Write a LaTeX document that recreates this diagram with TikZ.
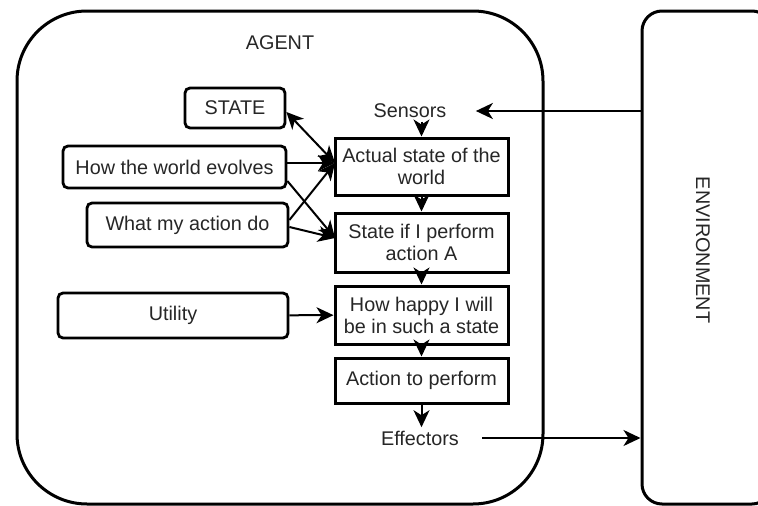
\documentclass[tikz,border=0pt]{standalone}
\usepackage{fontspec}
\setmainfont{Liberation Sans}
\usetikzlibrary{arrows.meta}
\begin{document}
\begin{tikzpicture}[x=1pt,y=-1pt,
  every node/.style={font=\fontsize{19.8}{22}\selectfont, text=black!85},
  frame/.style={draw, line width=3pt, rounded corners=#1, inner sep=0pt},
  inbox/.style={draw, line width=2.8pt, rounded corners=5pt, inner sep=0pt},
  stepbox/.style={draw, line width=3pt, inner sep=0pt, align=center,
    minimum width=173pt},
  link/.style={line width=2pt, -{Stealth[length=17pt,width=16pt,inset=5pt]}},
  biglink/.style={line width=2pt, {Stealth[length=17pt,width=16pt,inset=5pt]}-{Stealth[length=17pt,width=16pt,inset=5pt]}}
]
\useasboundingbox (0,0) rectangle (758,506);

% outer frames
\node[frame=70pt, minimum width=526pt, minimum height=493pt] (agent) at (280,257.5) {};
\node[frame=20pt, minimum width=130pt, minimum height=493pt] (env) at (707,257.5) {};
\node at (280,43) {AGENT};
\node[rotate=-90] (envlabel) at (703,250) {ENVIRONMENT};

% knowledge boxes on the left
\node[inbox, minimum width=100pt, minimum height=40pt] (state) at (235,108) {STATE};
\node[inbox, minimum width=223pt, minimum height=42pt] (evolve) at (174.5,167) {How the world evolves};
\node[inbox, minimum width=201pt, minimum height=44pt] (action) at (187.5,225) {What my action do};
\node[inbox, minimum width=230pt, minimum height=45pt] (utility) at (173,315.5) {Utility};

% decision chain
\node (sensors) at (410,111) {Sensors};
\node[stepbox, minimum height=57pt] (actual) at (421.5,166.5) {Actual state of the\\world};
\node[stepbox, minimum height=59pt] (ifdo) at (421.5,242.5) {State if I perform\\action A};
\node[stepbox, minimum height=58pt] (happy) at (421.5,315) {How happy I will\\be in such a state};
\node[stepbox, minimum height=45pt] (todo) at (421.5,380.5) {Action to perform};
\node (effectors) at (420,438) {Effectors};

% flow down the chain
\draw[link] (sensors.south -| actual.north) -- (actual.north);
\draw[link] (actual) -- (ifdo);
\draw[link] (ifdo) -- (happy);
\draw[link] (happy) -- (todo);
\draw[link] (todo.south) -- (effectors.north -| todo.south);

% knowledge into the chain
\coordinate (actin) at (335,163);
\coordinate (ifin) at (335,238);
\draw[biglink] (state.east |- 0,112) -- (actin);
\draw[link] (evolve.east |- actin) -- (actin);
\draw[link] (evolve.east |- 0,181) -- (ifin);
\draw[link] (action.east |- 0,220) -- (actin);
\draw[link] (action.east |- 0,227) -- (ifin);
\draw[link] (utility) -- (happy);

% exchange with the environment
\draw[link] (env.west |- sensors) -- ([xshift=26pt]sensors.east);
\draw[link] ([xshift=20pt]effectors.east) -- (env.west |- effectors);
\end{tikzpicture}
\end{document}
